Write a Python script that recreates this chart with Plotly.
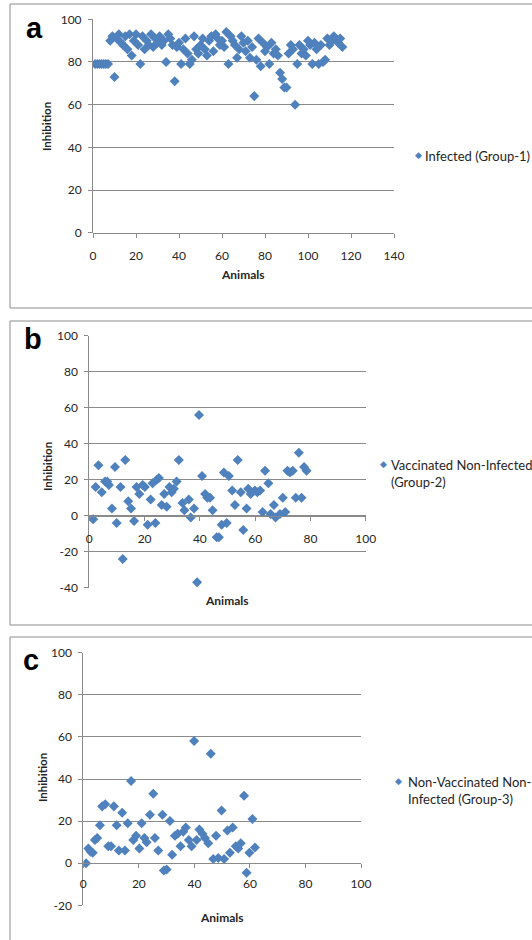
import plotly.graph_objects as go

W, H = 532, 940
BLUE = '#4F81BD'
GRID = '#8a8a8a'
TXT = '#262626'
FONT = 'Lato, Open Sans, Liberation Sans, sans-serif'

# ---------------- data ----------------
a_x = list(range(1, 117))
a_y = [79, 79, 79, 79, 79, 79, 79, 90, 92, 73,
       91, 93, 89, 88, 92, 86, 93, 83, 90, 93,
       88, 79, 92, 86, 90, 88, 93, 87, 91, 89,
       92, 88, 90, 80, 93, 91, 88, 71, 87, 89,
       79, 86, 91, 84, 79, 81, 92, 86, 84, 88,
       91, 86, 83, 90, 92, 85, 93, 91, 88, 90,
       87, 94, 79, 92, 90, 88, 82, 86, 92, 89,
       85, 90, 82, 87, 64, 81, 91, 78, 89, 85,
       87, 79, 89, 84, 86, 83, 75, 72, 68, 68,
       84, 88, 86, 60, 79, 88, 84, 86, 83, 90,
       88, 79, 89, 86, 79, 88, 80, 81, 91, 88,
       90, 92, 91, 89, 91, 87]

b_x = [1.4, 2.3, 3.3, 4.5, 5.7, 6.5, 7.1, 8.2, 9.3, 9.9,
       11.3, 12.1, 13, 14.1, 15.1, 16.2, 17.1, 18.1, 19.3, 20.1,
       21.1, 22.2, 22.9, 23.9, 24.4, 25.2, 26.2, 27.1, 28, 29,
       29.8, 30.6, 31.6, 32.4, 33.7, 34.4, 36, 36.7, 37.9, 39,
       39.7, 40.8, 41.9, 42.7, 43.7, 44.6, 46.1, 46.9, 47.9, 48.7,
       49.7, 50.5, 51.7, 52.7, 53.7, 54.8, 55.7, 56.9, 57.5, 58.4,
       59.9, 60.8, 61.8, 62.7, 63.6, 64.8, 65.6, 66.8, 67.4, 69,
       70, 70.9, 71.7, 72.6, 73.6, 74.7, 75.8, 76.8, 77.7, 78.6]
b_y = [-2, 16, 28, 13, 19, 19, 17, 4, 27, -4,
       16, -24, 31, 8, 4, -3, 16, 12, 17, 16,
       -5, 9, 18, -4, 20, 21, 6, 12, 5, 16,
       13, 15, 19, 31, 7, 3, 9, -1, 4, -37,
       56, 22, 12, 10, 10, 3, -12, -12, -5, 24,
       -4, 22, 14, 6, 31, 13, -8, 4, 15, 12,
       14, 13, 14, 2, 25, 18, 1, 6, -1, 1,
       10, 2, 25, 24, 25, 10, 35, 10, 27, 25]

c_x = [1, 1.8, 2.6, 3.4, 4.2, 5, 6, 6.8, 7.9, 9,
       10, 11, 12, 12.8, 14, 15, 16, 17.2, 18, 19,
       20.2, 21, 22, 22.8, 24, 25.2, 25.8, 27, 28.5, 29,
       30, 31.2, 32, 33, 34, 35, 36, 36.9, 38, 39,
       39.9, 40.8, 41.8, 42.9, 43.8, 45, 45.9, 46.8, 47.8, 48.6,
       49.8, 50.7, 51.9, 52.8, 53.8, 54.9, 55.8, 56.7, 57.9, 58.8,
       59.8, 60.9, 61.8]
c_y = [0, 7, 5.5, 5, 11, 12, 18, 27, 28, 8,
       8, 27, 18, 6, 24, 6, 19, 39, 11, 13,
       7, 19, 12, 10, 23, 33, 12, 6, 23, -3.5,
       -3, 20, 4, 13, 14, 8, 15, 17, 11, 8,
       58, 11, 16, 14, 12, 9.5, 52, 2, 13, 2.5,
       25, 2, 15.5, 5, 17, 8, 7, 9.5, 32, -4.5,
       5, 21, 7.5]

series_names = ['Infected (Group-1)',
                'Vaccinated Non-Infected<br>(Group-2)',
                'Non-Vaccinated Non-<br>Infected (Group-3)']
panel_letters = ['a', 'b', 'c']
x_ticks = [[0, 20, 40, 60, 80, 100, 120, 140], [0, 20, 40, 60, 80, 100], [0, 20, 40, 60, 80, 100]]
y_ticks = [[0, 20, 40, 60, 80, 100], [-40, -20, 0, 20, 40, 60, 80, 100], [-20, 0, 20, 40, 60, 80, 100]]

# ---------------- layout helpers (pixel -> paper) ----------------
def fx(px):
    return px / W

def fy(py):
    return 1 - py / H

# plot-area pixel geometry for each panel: (x_left, x_right, y_top, y_bottom, y_of_zero)
geo = [
    (93, 394, 19.3, 232.7, 232.7),
    (89.3, 365.7, 335.7, 587.7, 515.7),
    (83.3, 361, 652.7, 905.3, 863.2),
]
xranges = [[0, 140], [0, 100], [0, 100]]
yranges = [[0, 100], [-40, 100], [-20, 100]]
boxes = [(10, 4, 308), (10, 321, 625), (10, 637, 945)]

fig = go.Figure()
datasets = [(a_x, a_y), (b_x, b_y), (c_x, c_y)]
for i, (xs, ys) in enumerate(datasets):
    sfx = '' if i == 0 else str(i + 1)
    fig.add_trace(go.Scatter(
        x=xs, y=ys, mode='markers', name=series_names[i],
        xaxis='x' + sfx, yaxis='y' + sfx, showlegend=False,
        marker=dict(symbol='diamond', size=7.7, color=BLUE, line=dict(width=0)),
    ))

layout = dict(
    width=W, height=H, margin=dict(l=0, r=0, t=0, b=0, autoexpand=False),
    paper_bgcolor='white', plot_bgcolor='white',
    font=dict(family=FONT, color=TXT, size=12),
    showlegend=False,
)
shapes = []
annotations = []
legend_pos = [(418, 155, 423, 155), (383, 464, 389, 464), (398, 781, 406, 781)]
letter_pos = [(34, 28), (33, 339), (31, 660)]
ylab_pos = [(47, 127), (47, 467), (42, 778)]
xlab_pos = [(243, 274), (227, 600), (222, 917)]
xstandoff = [8, 8, 5]

def ann(text, x, y, size, family=FONT, color=TXT, xa='center', ya='middle', **kw):
    d = dict(text=text, x=fx(x), y=fy(y), xref='paper', yref='paper', showarrow=False,
             xanchor=xa, yanchor=ya, font=dict(family=family, size=size, color=color))
    d.update(kw)
    return d

for i in range(3):
    sfx = '' if i == 0 else str(i + 1)
    xl, xr, yt, yb, y0 = geo[i]
    layout['xaxis' + sfx] = dict(
        domain=[fx(xl), fx(xr)], range=xranges[i],
        tickvals=x_ticks[i], ticktext=[str(v) for v in x_ticks[i]],
        anchor='free', position=fy(y0), showgrid=False, zeroline=False,
        showline=True, linecolor=GRID, linewidth=1, automargin=False,
        ticks='outside', ticklen=4, tickcolor=GRID,
        ticklabelstandoff=xstandoff[i],
        tickfont=dict(size=12, color=TXT, family=FONT), fixedrange=True,
    )
    layout['yaxis' + sfx] = dict(
        domain=[fy(yb), fy(yt)], range=yranges[i],
        tickvals=y_ticks[i], ticktext=[str(v) for v in y_ticks[i]],
        anchor='x' + sfx, showgrid=True, gridcolor=GRID, gridwidth=1,
        zeroline=False, showline=True, linecolor=GRID, linewidth=1, automargin=False,
        ticks='outside', ticklen=4, tickcolor=GRID,
        ticklabelstandoff=4,
        tickfont=dict(size=12, color=TXT, family=FONT), fixedrange=True,
    )
    bx, by0, by1 = boxes[i]
    shapes.append(dict(type='rect', xref='paper', yref='paper',
                       x0=fx(bx), x1=fx(W + 20), y0=fy(by1), y1=fy(by0),
                       line=dict(color='#8c8c8c', width=1), fillcolor='rgba(0,0,0,0)',
                       layer='below'))
    lx, ly = letter_pos[i]
    annotations.append(ann('<b>%s</b>' % panel_letters[i], lx, ly, 29,
                           family='Liberation Sans, Arial, sans-serif', color='black'))
    px_, py_ = ylab_pos[i]
    annotations.append(ann('<b>Inhibition</b>', px_, py_, 11.5, textangle=-90))
    px_, py_ = xlab_pos[i]
    annotations.append(ann('<b>Animals</b>', px_, py_, 12))
    mx, my, tx, ty = legend_pos[i]
    annotations.append(ann('\u25C6', mx, my, 9, family='DejaVu Sans', color=BLUE))
    annotations.append(ann(series_names[i], tx, ty - 9, 13, xa='left', ya='top', align='left'))

layout['shapes'] = shapes
layout['annotations'] = annotations
fig.update_layout(**layout)
fig.write_html('out.html', config={'displayModeBar': False},
               post_script="document.body.style.margin='0px';")
